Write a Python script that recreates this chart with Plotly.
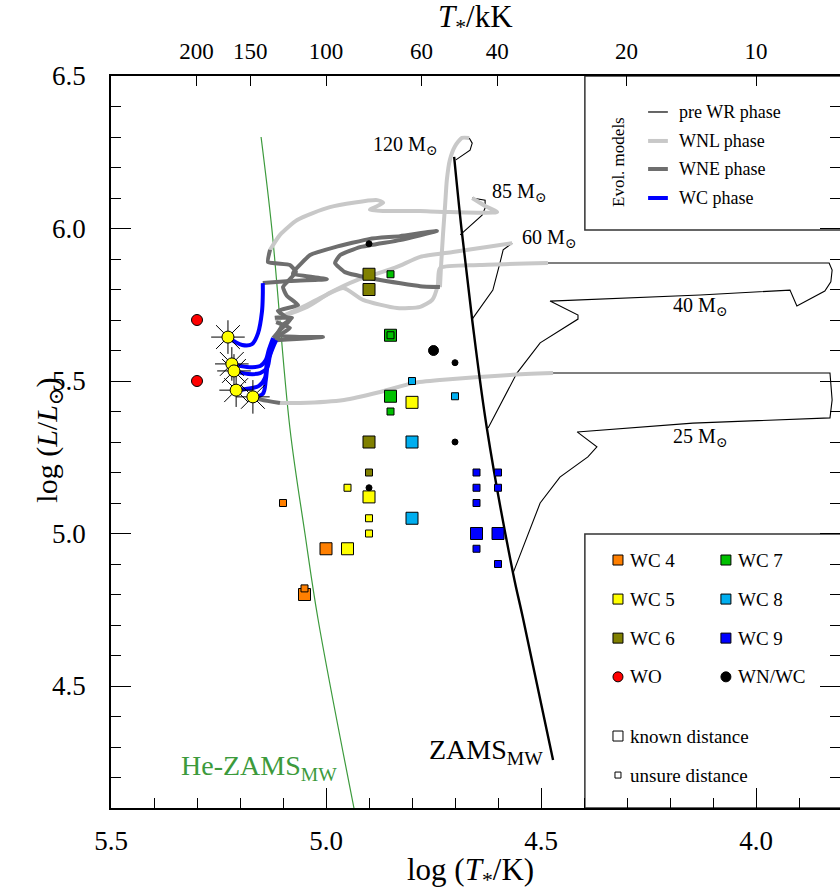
import plotly.graph_objects as go
import numpy as np

FONT = "Liberation Serif, Times New Roman, DejaVu Serif, serif"

# ---------------- reference lines ----------------
zams_T = [4.702, 4.685, 4.660, 4.626, 4.565, 4.542, 4.472]
zams_L = [6.235, 6.000, 5.700, 5.346, 4.870, 4.723, 4.257]
hezams_T = [5.151, 5.126, 5.084, 5.049, 5.019, 4.935]
hezams_L = [6.300, 6.000, 5.346, 5.000, 4.723, 4.100]

# ---------------- evolutionary tracks (log T, log L) ----------------
# 120 Msun
t120_pre_T = [4.698, 4.681, 4.665, 4.660, 4.667]
t120_pre_L = [6.225, 6.241, 6.257, 6.280, 6.297]
t120_wnl_T = [4.667, 4.684, 4.700, 4.712, 4.719, 4.723, 4.728, 4.733, 4.735]
t120_wnl_L = [6.297, 6.297, 6.270, 6.225, 6.159, 6.077, 5.979, 5.864, 5.808]
t120_wne_T = [4.735, 4.781, 4.874, 4.956, 4.979, 4.967, 4.921, 4.828, 4.742, 4.828, 4.898,
              4.979, 5.037, 5.072, 5.077, 4.998, 5.084, 5.147]
t120_wne_L = [5.808, 5.811, 5.831, 5.857, 5.887, 5.913, 5.939, 5.962, 5.992, 5.975, 5.966,
              5.939, 5.913, 5.864, 5.851, 5.834, 5.828, 5.821]
t120_wc_T = [5.147, 5.147, 5.149, 5.158, 5.172, 5.195, 5.228]
t120_wc_L = [5.821, 5.782, 5.726, 5.657, 5.621, 5.618, 5.644]

# 85 Msun
t85_pre_T = [4.688, 4.637, 4.630, 4.630, 4.660]
t85_pre_L = [5.979, 6.044, 6.067, 6.093, 6.100]
t85_wnl_T = [4.660, 4.630, 4.602, 4.712, 4.781, 4.898, 4.867, 4.881, 4.991, 5.067, 5.107, 5.130]
t85_wnl_L = [6.100, 6.074, 6.054, 6.054, 6.057, 6.061, 6.084, 6.093, 6.070, 6.028, 5.979, 5.930]
t85_wne_T = [5.130, 5.135, 5.084, 5.070, 5.100, 5.091, 5.065, 5.112, 5.084, 5.107, 5.123]
t85_wne_L = [5.930, 5.890, 5.880, 5.857, 5.808, 5.779, 5.749, 5.730, 5.700, 5.667, 5.641]
t85_wc_T = [5.123, 5.133, 5.140, 5.153, 5.184, 5.219]
t85_wc_L = [5.641, 5.602, 5.569, 5.549, 5.546, 5.556]

# 60 Msun
t60_pre_T = [4.660, 4.612, 4.595, 4.588, 4.567]
t60_pre_L = [5.703, 5.798, 5.890, 5.930, 5.952]
t60_wnl_T = [4.567, 4.626, 4.705, 4.781, 4.835, 4.898, 4.928, 4.991, 5.044, 5.095, 5.119]
t60_wnl_L = [5.952, 5.939, 5.923, 5.907, 5.874, 5.844, 5.831, 5.789, 5.743, 5.716, 5.707]
t60_wne_T = [5.119, 5.079, 5.100, 5.114, 5.060, 5.007, 5.116]
t60_wne_L = [5.707, 5.707, 5.684, 5.651, 5.644, 5.644, 5.634]
t60_wc_T = [5.116, 5.130, 5.137, 5.153, 5.181, 5.214]
t60_wc_L = [5.634, 5.585, 5.543, 5.526, 5.523, 5.533]

# 40 Msun
t40_pre_T = [4.623, 4.556, 4.502, 4.414, 4.414, 4.479, 4.130, 3.921, 3.905, 3.840, 3.826,
             3.823, 3.830, 4.484]
t40_pre_L = [5.346, 5.526, 5.625, 5.703, 5.716, 5.762, 5.782, 5.798, 5.746, 5.795, 5.825,
             5.864, 5.887, 5.887]
t40_wnl_T = [4.484, 4.642, 4.735, 4.740, 4.753, 4.781, 4.835, 4.914, 4.960, 5.009, 5.060,
             5.100, 5.116]
t40_wnl_L = [5.887, 5.880, 5.870, 5.815, 5.766, 5.743, 5.739, 5.766, 5.805, 5.775, 5.739,
             5.713, 5.693]
t40_wne_T = [5.116, 5.084, 5.107, 5.126]
t40_wne_L = [5.693, 5.674, 5.651, 5.618]
t40_wc_T = [5.126, 5.137, 5.142, 5.156, 5.186, 5.209]
t40_wc_L = [5.618, 5.569, 5.510, 5.484, 5.474, 5.470]

# 25 Msun
t25_pre_T = [4.565, 4.502, 4.456, 4.391, 4.370, 4.416, 4.147, 3.828, 3.823, 3.828, 4.472]
t25_pre_L = [4.870, 5.100, 5.185, 5.251, 5.284, 5.333, 5.362, 5.379, 5.438, 5.526, 5.526]
t25_wnl_T = [4.472, 4.572, 4.735, 4.798, 4.874, 4.958, 5.060, 5.107]
t25_wnl_L = [5.526, 5.520, 5.503, 5.493, 5.464, 5.438, 5.428, 5.428]
t25_wne_T = [5.107, 5.149, 5.170]
t25_wne_L = [5.428, 5.438, 5.448]
t25_wc_T = [5.170, 5.147, 5.140, 5.135, 5.126]
t25_wc_L = [5.448, 5.458, 5.503, 5.562, 5.608]

# end points of the models (star symbols)
end_T = [5.228, 5.219, 5.214, 5.209, 5.170]
end_L = [5.644, 5.556, 5.533, 5.470, 5.448]

track_labels = ["120 M<sub>⊙</sub>", "85 M<sub>⊙</sub>", "60 M<sub>⊙</sub>",
                "40 M<sub>⊙</sub>", "25 M<sub>⊙</sub>"]
track_label_T = [4.814, 4.549, 4.481, 4.128, 4.128]
track_label_L = [6.272, 6.118, 5.966, 5.743, 5.316]

# ---------------- observed stars ----------------
wc4_known_T = [5.00, 5.05];  wc4_known_L = [4.95, 4.80]
wc4_unsure_T = [5.10, 5.05]; wc4_unsure_L = [5.10, 4.82]
wc5_known_T = [4.90, 4.95, 4.80]; wc5_known_L = [5.12, 4.95, 5.43]
wc5_unsure_T = [4.95, 4.90, 4.90]; wc5_unsure_L = [5.15, 5.05, 5.00]
wc6_known_T = [4.90, 4.90, 4.90]; wc6_known_L = [5.85, 5.80, 5.30]
wc6_unsure_T = [4.90]; wc6_unsure_L = [5.20]
wc7_known_T = [4.85, 4.85]; wc7_known_L = [5.65, 5.45]
wc7_unsure_T = [4.85, 4.85, 4.85]; wc7_unsure_L = [5.85, 5.65, 5.40]
wc8_known_T = [4.80, 4.80]; wc8_known_L = [5.30, 5.05]
wc8_unsure_T = [4.80, 4.70]; wc8_unsure_L = [5.50, 5.45]
wc9_known_T = [4.65, 4.60]; wc9_known_L = [5.00, 5.00]
wc9_unsure_T = [4.65, 4.60, 4.65, 4.60, 4.65, 4.65, 4.60]
wc9_unsure_L = [5.20, 5.20, 5.15, 5.15, 5.10, 4.95, 4.90]
wo_T = [5.30, 5.30]; wo_L = [5.70, 5.50]
wnwc_known_T = [4.75]; wnwc_known_L = [5.60]
wnwc_unsure_T = [4.90, 4.70, 4.70, 4.90]; wnwc_unsure_L = [5.95, 5.56, 5.30, 5.15]

# top axis (T in kK)
top_kK = [200, 150, 100, 60, 40, 20, 10]

# colours
C_WNL = "#c8c8c8"; C_WNE = "#6e6e6e"; C_WC = "#0000ff"
C_WC4 = "#ff7f00"; C_WC5 = "#ffff00"; C_WC6 = "#808000"
C_WC7 = "#00c000"; C_WC8 = "#00aeef"; C_WC9 = "#0000ff"
C_WO = "#ff0000"; C_WNWC = "#000000"; C_HE = "#3c9a3c"

fig = go.Figure()

def line(x, y, color, width, shape="linear", smoothing=1.0):
    ln = dict(color=color, width=width, shape=shape)
    if shape == "spline":
        ln["smoothing"] = smoothing
    fig.add_trace(go.Scatter(x=x, y=y, mode="lines", line=ln,
                             hoverinfo="skip", showlegend=False))

line(hezams_T, hezams_L, C_HE, 1.2, "spline")

pre = [(t120_pre_T, t120_pre_L), (t85_pre_T, t85_pre_L), (t60_pre_T, t60_pre_L),
       (t40_pre_T, t40_pre_L), (t25_pre_T, t25_pre_L)]
wnl = [(t120_wnl_T, t120_wnl_L), (t85_wnl_T, t85_wnl_L), (t60_wnl_T, t60_wnl_L),
       (t40_wnl_T, t40_wnl_L), (t25_wnl_T, t25_wnl_L)]
wne = [(t120_wne_T, t120_wne_L), (t85_wne_T, t85_wne_L), (t60_wne_T, t60_wne_L),
       (t40_wne_T, t40_wne_L), (t25_wne_T, t25_wne_L)]
wc = [(t120_wc_T, t120_wc_L), (t85_wc_T, t85_wc_L), (t60_wc_T, t60_wc_L),
      (t40_wc_T, t40_wc_L), (t25_wc_T, t25_wc_L)]
for x, y in pre:
    line(x, y, "black", 1.1)
for x, y in wnl:
    line(x, y, C_WNL, 4, "spline", 0.6)
for x, y in wne:
    line(x, y, C_WNE, 4, "spline", 0.4)
for x, y in wc:
    line(x, y, C_WC, 4, "spline", 1.0)

line(zams_T, zams_L, "black", 2.4, "spline")

def pts(x, y, color, size, symbol="square"):
    fig.add_trace(go.Scatter(x=x, y=y, mode="markers",
                             marker=dict(symbol=symbol, size=size, color=color,
                                         line=dict(color="black", width=1)),
                             hoverinfo="skip", showlegend=False))

BIG, SMALL = 12, 7
pts(wc4_known_T, wc4_known_L, C_WC4, BIG); pts(wc4_unsure_T, wc4_unsure_L, C_WC4, SMALL)
pts(wc5_known_T, wc5_known_L, C_WC5, BIG); pts(wc5_unsure_T, wc5_unsure_L, C_WC5, SMALL)
pts(wc6_known_T, wc6_known_L, C_WC6, BIG); pts(wc6_unsure_T, wc6_unsure_L, C_WC6, SMALL)
pts(wc7_known_T, wc7_known_L, C_WC7, BIG); pts(wc7_unsure_T, wc7_unsure_L, C_WC7, SMALL)
pts(wc8_known_T, wc8_known_L, C_WC8, BIG); pts(wc8_unsure_T, wc8_unsure_L, C_WC8, SMALL)
pts(wc9_known_T, wc9_known_L, C_WC9, BIG); pts(wc9_unsure_T, wc9_unsure_L, C_WC9, SMALL)
pts(wo_T, wo_L, C_WO, 11, "circle")
pts(wnwc_known_T, wnwc_known_L, C_WNWC, 10, "circle")
pts(wnwc_unsure_T, wnwc_unsure_L, C_WNWC, 6, "circle")

# end-point stars
fig.add_trace(go.Scatter(x=end_T, y=end_L, mode="markers",
                         marker=dict(symbol="asterisk-open", size=28, color="black",
                                     line=dict(color="black", width=1)),
                         hoverinfo="skip", showlegend=False))
pts(end_T, end_L, "#ffff00", 12, "circle")

annotations = []
for txt, tx, ty in zip(track_labels, track_label_T, track_label_L):
    annotations.append(dict(x=tx, y=ty, xref="x", yref="y", text=txt, showarrow=False,
                            font=dict(family=FONT, size=20, color="black")))
annotations.append(dict(x=4.628, y=4.284, xref="x", yref="y", text="ZAMS<sub>MW</sub>",
                        showarrow=False, font=dict(family=FONT, size=28, color="black")))
annotations.append(dict(x=5.156, y=4.234, xref="x", yref="y", text="He-ZAMS<sub>MW</sub>",
                        showarrow=False, font=dict(family=FONT, size=28, color=C_HE)))

# ---------------- legends ----------------
LX0 = 4.398
shapes = [
    dict(type="rect", xref="x", yref="y", x0=LX0, x1=3.79, y0=5.995, y1=6.5,
         line=dict(color="#333", width=1.5), fillcolor="white", layer="below"),
    dict(type="rect", xref="x", yref="y", x0=LX0, x1=3.79, y0=4.1, y1=4.998,
         line=dict(color="#333", width=1.5), fillcolor="white", layer="below"),
]
leg_rows_L = [6.382, 6.287, 6.195, 6.100]
leg_styles = [("black", 1.2), (C_WNL, 4), (C_WNE, 4), (C_WC, 4)]
leg_texts = ["pre WR phase", "WNL phase", "WNE phase", "WC phase"]
for yy, (c, w), t in zip(leg_rows_L, leg_styles, leg_texts):
    shapes.append(dict(type="line", xref="x", yref="y", x0=4.251, x1=4.205, y0=yy, y1=yy,
                       line=dict(color=c, width=w)))
    annotations.append(dict(x=4.184, y=yy, xref="x", yref="y", text=t, showarrow=False,
                            xanchor="left", font=dict(family=FONT, size=18, color="black")))
annotations.append(dict(x=4.321, y=6.218, xref="x", yref="y", text="Evol. models",
                        showarrow=False, textangle=-90,
                        font=dict(family=FONT, size=17, color="black")))

leg2_rows = [4.913, 4.785, 4.657, 4.530]
col1 = [("WC 4", C_WC4, "square"), ("WC 5", C_WC5, "square"), ("WC 6", C_WC6, "square"),
        ("WO", C_WO, "circle")]
col2 = [("WC 7", C_WC7, "square"), ("WC 8", C_WC8, "square"), ("WC 9", C_WC9, "square"),
        ("WN/WC", C_WNWC, "circle")]
for (mx, tx), col in [((4.321, 4.297), col1), ((4.070, 4.046), col2)]:
    for yy, (t, c, s) in zip(leg2_rows, col):
        pts([mx], [yy], c, 10, s)
        annotations.append(dict(x=tx, y=yy, xref="x", yref="y", text=t, showarrow=False,
                                xanchor="left", font=dict(family=FONT, size=19, color="black")))
pts([4.321], [4.336], "white", 10)
pts([4.321], [4.208], "white", 6)
annotations.append(dict(x=4.297, y=4.336, xref="x", yref="y", text="known distance",
                        showarrow=False, xanchor="left",
                        font=dict(family=FONT, size=19, color="black")))
annotations.append(dict(x=4.297, y=4.208, xref="x", yref="y", text="unsure distance",
                        showarrow=False, xanchor="left",
                        font=dict(family=FONT, size=19, color="black")))

# axis titles
annotations.append(dict(x=0.4925, y=-0.088, xref="paper", yref="paper", showarrow=False,
                        text="log (<i>T</i><sub>*</sub>/K)", yanchor="middle",
                        font=dict(family=FONT, size=31, color="black")))
annotations.append(dict(x=0.50, y=1.078, xref="paper", yref="paper", showarrow=False,
                        text="<i>T</i><sub>*</sub>/kK", yanchor="middle",
                        font=dict(family=FONT, size=31, color="black")))
annotations.append(dict(x=-0.114, y=0.503, xref="paper", yref="paper", showarrow=False,
                        text="log (<i>L</i>/<i>L</i><sub>⊙</sub>)", textangle=-90,
                        font=dict(family=FONT, size=30, color="black")))

# dummy traces for secondary axes
fig.add_trace(go.Scatter(x=[None], y=[None], xaxis="x2", yaxis="y", showlegend=False))
fig.add_trace(go.Scatter(x=[None], y=[None], xaxis="x", yaxis="y2", showlegend=False))

XR = [5.5, 3.8047]
YR = [4.1, 6.5]
tickfont = dict(family=FONT, size=27, color="black")
fig.update_layout(
    width=840, height=891,
    margin=dict(l=111, r=0, t=76, b=83),
    paper_bgcolor="white", plot_bgcolor="white",
    showlegend=False,
    shapes=shapes, annotations=annotations,
    xaxis=dict(range=XR, showline=True, linecolor="black", linewidth=1.5, mirror=False,
               ticks="inside", ticklen=20, tickwidth=1.2, tickcolor="black",
               tick0=4.0, dtick=0.5, tickformat=".1f", tickfont=tickfont,
               minor=dict(ticks="inside", ticklen=10, tickwidth=1, tickcolor="black", dtick=0.1, tick0=4.0),
               showgrid=False, zeroline=False, ticklabelstandoff=8),
    xaxis2=dict(range=XR, overlaying="x", side="top", showline=True, linecolor="black",
                linewidth=1.5, ticks="inside", ticklen=10, tickwidth=1.2, tickcolor="black",
                tickvals=[float(np.log10(v * 1000)) for v in top_kK],
                ticktext=[str(v) for v in top_kK],
                tickfont=dict(family=FONT, size=23, color="black"),
                showgrid=False, zeroline=False, ticklabelstandoff=6),
    yaxis=dict(range=YR, showline=True, linecolor="black", linewidth=1.5,
               ticks="inside", ticklen=20, tickwidth=1.2, tickcolor="black",
               tick0=4.5, dtick=0.5, tickformat=".1f", tickfont=tickfont,
               minor=dict(ticks="inside", ticklen=10, tickwidth=1, tickcolor="black", dtick=0.1, tick0=4.5),
               showgrid=False, zeroline=False, ticklabelstandoff=18),
    yaxis2=dict(range=YR, overlaying="y", side="right", showline=False,
                ticks="inside", ticklen=20, tickwidth=1.2, tickcolor="black",
                tick0=4.5, dtick=0.5, showticklabels=False,
                minor=dict(ticks="inside", ticklen=10, tickwidth=1, tickcolor="black", dtick=0.1, tick0=4.5),
                showgrid=False, zeroline=False),
)

fig.write_html("out.html", config={"displayModeBar": False},
               post_script="document.body.style.margin='0';document.body.style.padding='0';")
